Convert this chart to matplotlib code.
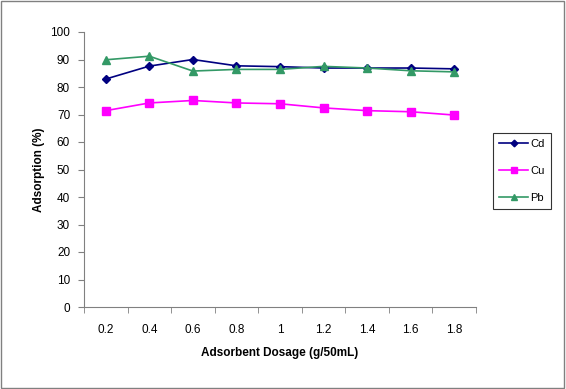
import matplotlib
matplotlib.use('Agg')
import matplotlib.pyplot as plt
from matplotlib.patches import Rectangle
import numpy as np

# Data
dosages = ['0.2', '0.4', '0.6', '0.8', '1', '1.2', '1.4', '1.6', '1.8']
cd_values = [82.9, 87.6, 90.0, 87.7, 87.4, 86.9, 86.9, 86.9, 86.6]
cu_values = [71.4, 74.2, 75.1, 74.2, 73.9, 72.4, 71.4, 71.0, 69.8]
pb_values = [89.9, 91.2, 85.8, 86.4, 86.4, 87.5, 86.9, 85.9, 85.5]

plt.rc('font', family=['Liberation Sans', 'DejaVu Sans'], size=8.5)
fig = plt.figure(figsize=(5.66, 3.89), dpi=100)
ax = fig.add_axes([84/566, 1 - 307/389, (476 - 84)/566, (307 - 32)/389])

x = np.arange(len(dosages))
ax.plot(x, cd_values, color='#000080', marker='D', markersize=4.5, lw=1.2, label='Cd')
ax.plot(x, cu_values, color='#FF00FF', marker='s', markersize=5.5, lw=1.2, label='Cu')
ax.plot(x, pb_values, color='#339966', marker='^', markersize=5.5, lw=1.2, label='Pb')

ax.set_xlim(-0.5, len(dosages) - 0.5)
ax.set_ylim(0, 100)
ax.set_yticks(np.arange(0, 101, 10))
ax.set_xticks(x)
ax.set_xticklabels(dosages)
ax.set_xticks(np.arange(-0.5, len(dosages), 1), minor=True)
ax.tick_params(axis='x', which='major', length=0, pad=12)
ax.tick_params(axis='x', which='minor', length=4, direction='out', color='#808080')
ax.tick_params(axis='y', length=4, direction='out', color='#808080', pad=6)

for s in ['top', 'right']:
    ax.spines[s].set_visible(False)
ax.spines['left'].set_color('#808080')
ax.spines['bottom'].set_color('#808080')

ax.set_xlabel('Adsorbent Dosage (g/50mL)', fontsize=8.5, fontweight='bold', labelpad=8)
ax.set_ylabel('Adsorption (%)', fontsize=8.5, fontweight='bold', labelpad=4)

leg = ax.legend(loc='center', bbox_to_anchor=(522/566, 1 - 171/389),
                bbox_transform=fig.transFigure, fancybox=False, frameon=True,
                edgecolor='black', fontsize=8, handlelength=2.6, markerscale=0.75,
                labelspacing=1.5, borderpad=0.6, handletextpad=0.2)
leg.get_frame().set_linewidth(0.8)

# outer chart border
fig.patches.append(Rectangle((0.002, 0.003), 0.995, 0.994, transform=fig.transFigure,
                             fill=False, edgecolor='#808080', lw=1.0))

fig.savefig('out.png', dpi=100)
